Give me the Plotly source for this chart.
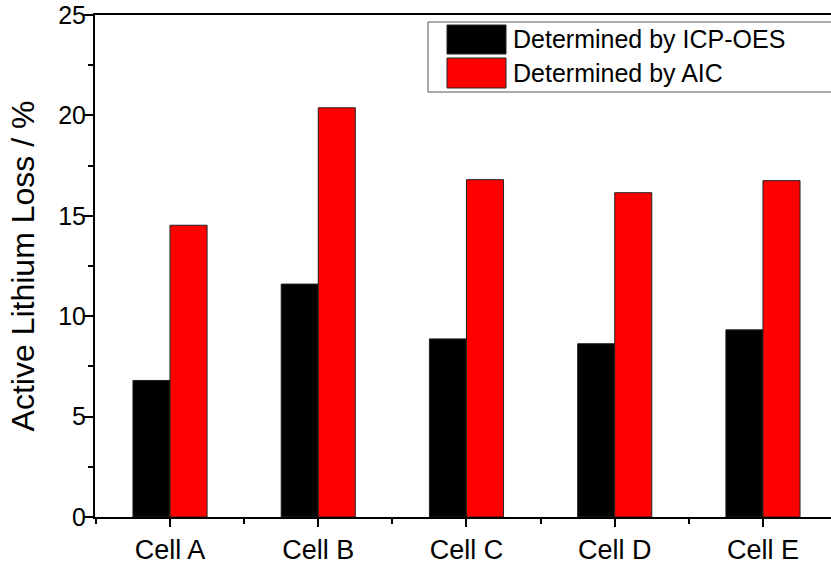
import plotly.graph_objects as go

categories = ["Cell A", "Cell B", "Cell C", "Cell D", "Cell E"]
icp_oes = [6.8, 11.6, 8.87, 8.63, 9.32]
aic = [14.53, 20.38, 16.8, 16.15, 16.75]
series_names = ["Determined by ICP-OES", "Determined by AIC"]
series_colors = ["#000000", "#ff0000"]

W, H = 831, 567
L, R, T, B = 95, 0, 15, 50
pw, ph = W - L - R, H - T - B

def px(xp):
    return (xp - L) / pw

def py(yp):
    return (H - B - yp) / ph

xpos = list(range(len(categories)))

fig = go.Figure()
for name, vals, col in zip(series_names, [icp_oes, aic], series_colors):
    fig.add_trace(go.Bar(
        x=xpos, y=vals, name=name,
        marker=dict(color=col, line=dict(color="#222222", width=1)),
        showlegend=False,
    ))

font_family = "Liberation Sans, Arial, sans-serif"

fig.update_layout(
    width=W, height=H,
    margin=dict(l=L, r=R, t=T, b=B),
    paper_bgcolor="white", plot_bgcolor="white",
    barmode="group", bargap=0.5, bargroupgap=0,
    font=dict(family=font_family, color="black", size=24),
)

fig.update_xaxes(
    range=[-0.506, 4.459],
    tickmode="array", tickvals=xpos, ticktext=categories,
    ticks="outside", ticklen=8, tickwidth=1.5, tickcolor="black",
    minor=dict(dtick=0.5, tick0=0.5, ticks="outside", ticklen=5, tickwidth=1.5, tickcolor="black"),
    showline=True, linewidth=2, linecolor="black", mirror=True,
    showgrid=False, zeroline=False,
    tickfont=dict(size=27),
)
fig.update_yaxes(
    range=[0, 25],
    tickmode="linear", tick0=0, dtick=5,
    ticks="outside", ticklen=9, tickwidth=1.5, tickcolor="black",
    minor=dict(dtick=2.5, ticks="outside", ticklen=5, tickwidth=1.5, tickcolor="black"),
    showline=True, linewidth=2, linecolor="black",
    showgrid=False, zeroline=False,
    tickfont=dict(size=25),
    ticklabelstandoff=-7,
    title=dict(text="Active Lithium Loss / %", font=dict(size=32), standoff=14),
)

# Legend drawn manually (large swatches)
fig.add_shape(type="rect", xref="paper", yref="paper",
              x0=px(428), x1=px(850), y0=py(92), y1=py(22),
              line=dict(color="#555555", width=1), fillcolor="rgba(0,0,0,0)")
rows = [(25, 54), (58, 88)]
for (y0, y1), name, col in zip(rows, series_names, series_colors):
    fig.add_shape(type="rect", xref="paper", yref="paper",
                  x0=px(447), x1=px(506), y0=py(y1), y1=py(y0),
                  line=dict(color="#222222", width=1), fillcolor=col)
    fig.add_annotation(xref="paper", yref="paper", x=px(511), y=py((y0 + y1) / 2),
                       text=name, showarrow=False, xanchor="left", yanchor="middle",
                       font=dict(size=25, family=font_family, color="black"))

fig.write_html("out.html")
